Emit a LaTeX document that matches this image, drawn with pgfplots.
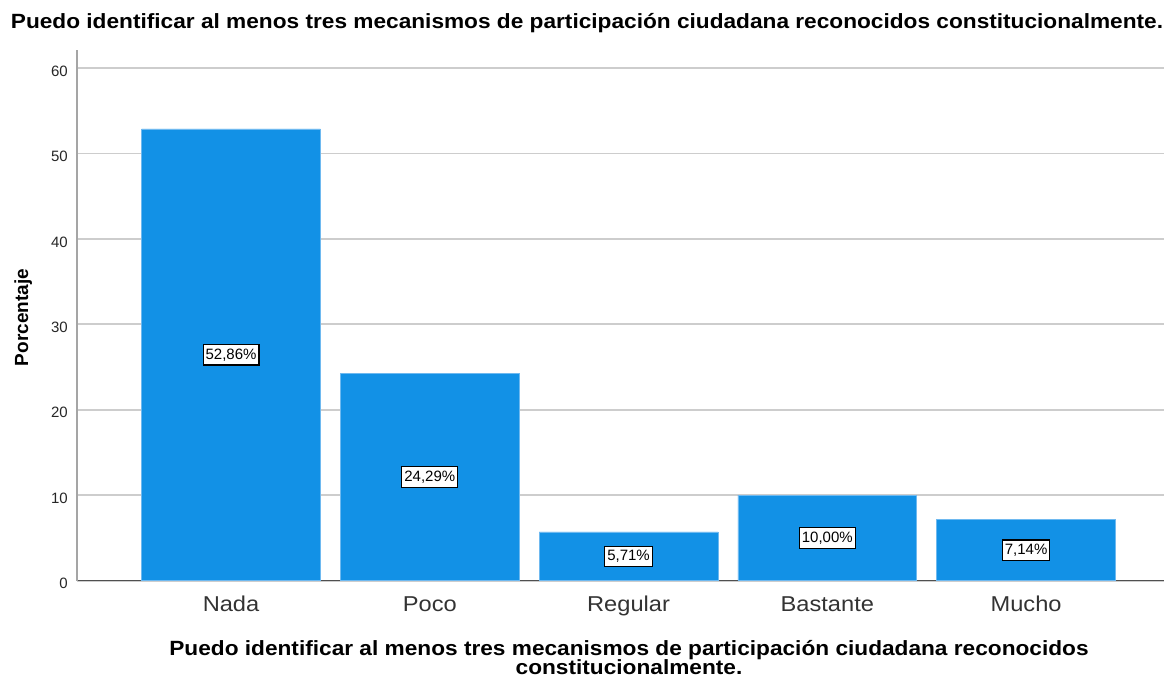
\documentclass[border=0pt]{standalone}
\usepackage{pgfplots}
\pgfplotsset{compat=1.18}
\usepackage{pgfplotstable}
\usepackage{fontspec}
\setmainfont{Liberation Sans}
\newfontfamily\widefont[FakeStretch=1.1]{Liberation Sans}
\definecolor{barblue}{RGB}{18,145,230}
\definecolor{baredge}{RGB}{110,185,240}
\definecolor{gridgray}{RGB}{205,205,205}
\definecolor{yaxgray}{RGB}{165,165,165}
\definecolor{xaxgray}{RGB}{80,80,80}

\pgfplotstableread{
x y lab
0 52.86 {52,86\%}
1 24.29 {24,29\%}
2 5.71 {5,71\%}
3 10.00 {10,00\%}
4 7.14 {7,14\%}
}\datatable

\begin{document}
\begin{tikzpicture}
\path[use as bounding box] (0,0) rectangle (1164pt,681pt);
\begin{axis}[
  at={(77pt,100.3pt)}, anchor=south west,
  scale only axis, width=1087pt, height=530.7pt,
  xmin=-0.775, xmax=4.694, ymin=0, ymax=62.1,
  axis x line*=bottom, axis y line*=left,
  x axis line style={-, draw=xaxgray, line width=1.3pt},
  y axis line style={-, draw=yaxgray, line width=2pt},
  ymajorgrids, grid style={draw=gridgray, line width=1.8pt},
  major tick length=0pt,
  xtick={0,1,2,3,4},
  xticklabels={Nada,Poco,Regular,Bastante,Mucho},
  ytick={0,10,20,30,40,50,60},
  yticklabel style={font=\fontsize{15}{18}\selectfont, inner sep=0pt, anchor=east, xshift=-9pt, yshift=-3pt, text=black!85},
  xticklabel style={font=\widefont\fontsize{21.5}{25}\selectfont, inner sep=0pt, anchor=base, yshift=-31pt, text=black!80},
  /pgf/number format/assume math mode=true,
  ybar, bar width=0.9, bar shift=0pt,
  clip=false,
]
\addplot[fill=barblue, draw=baredge, line width=0.6pt,
  nodes near coords,
  point meta=explicit symbolic,
  visualization depends on={y/2 \as \half},
  every node near coord/.append style={
    anchor=center, shift={(axis direction cs:0,-\half)},
    fill=white, draw=black, line width=1.2pt, inner xsep=2.5pt, inner ysep=4pt,
    font=\fontsize{15}{17}\selectfont, text=black}
] table[x=x, y=y, meta=lab] {\datatable};
\end{axis}
\node[anchor=base, font=\widefont\fontsize{20.6}{24}\selectfont\bfseries] at (587pt,652pt)
  {Puedo identificar al menos tres mecanismos de participación ciudadana reconocidos constitucionalmente.};
\node[anchor=base, rotate=90, font=\fontsize{19}{22}\selectfont\bfseries] at (28pt,363.5pt) {Porcentaje};
\node[anchor=base, font=\widefont\fontsize{20.6}{24}\selectfont\bfseries] at (629pt,26pt)
  {Puedo identificar al menos tres mecanismos de participación ciudadana reconocidos};
\node[anchor=base, font=\widefont\fontsize{20.6}{24}\selectfont\bfseries] at (629pt,7pt)
  {constitucionalmente.};
\end{tikzpicture}
\end{document}
